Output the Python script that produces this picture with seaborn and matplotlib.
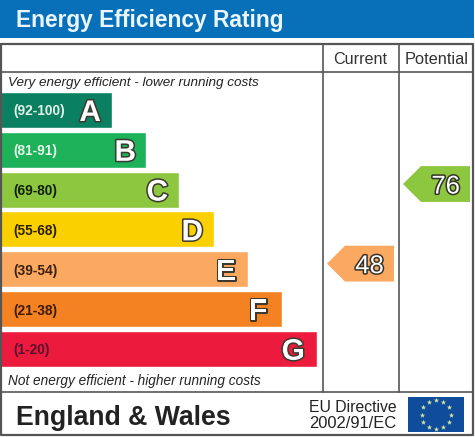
import numpy as np
import pandas as pd
import matplotlib
matplotlib.use('Agg')
import matplotlib.pyplot as plt
import matplotlib.patheffects as pe
import seaborn as sns

# Band data, bar lengths
bands = ['A', 'B', 'C', 'D', 'E', 'F', 'G']
ranges = ['(92-100)', '(81-91)', '(69-80)', '(55-68)', '(39-54)', '(21-38)', '(1-20)']
lengths = [112, 146, 179, 214, 248, 282, 317]
band_colors = ['#0B8060', '#1DB15A', '#8DC63F', '#FBD000', '#FBA860', '#F58222', '#EC1A3C']
range_colors = ['#E4F2EA', '#E4F6EA', '#10200A', '#2A2000', '#3A2010', '#3A1A08', '#5A1030']

# Current / potential ratings
ratings = [48, 76]
rating_bands = ['E', 'C']
rating_labels = ['Current', 'Potential']

W, H = 475, 437
sns.set_theme(style='white')
plt.rcParams['font.family'] = ['Liberation Sans', 'DejaVu Sans']

fig = plt.figure(figsize=(W / 100, H / 100), dpi=100)

# Bars axes: x in pixels, y is the band row
ax = fig.add_axes([0, 1 - 368.7 / H, 1, (368.7 - 90.1) / H])
df = pd.DataFrame({'band': bands, 'length': lengths})
sns.barplot(data=df, y='band', x='length', hue='band', palette=band_colors,
            order=bands, legend=False, width=0.905, saturation=1, ax=ax)
ax.set_xlim(0, W)
ax.set_ylim(6.5, -0.5)
ax.axis('off')

outline = [pe.withStroke(linewidth=2.2, foreground='#3A3A2E')]
letter_pad = [11, 10, 11, 11, 12, 15, 12]
for i, b in enumerate(bands):
    ax.text(13, i, ranges[i], color=range_colors[i], fontsize=9.9, fontweight='bold',
            ha='left', va='center_baseline')
    t = ax.text(lengths[i] - letter_pad[i], i, b, color='white', fontsize=21.5, fontweight='bold',
                ha='right', va='center_baseline')
    t.set_path_effects(outline)


def arrow(right, row, value, color):
    # pentagon pointing left, sized in pixels horizontally and rows vertically
    tip, shoulder = right - 67, right - 49
    xs = [tip, shoulder, right, right, shoulder]
    ys = [row, row - 0.45, row - 0.45, row + 0.45, row + 0.45]
    ax.fill(xs, ys, color=color, lw=0)
    t = ax.text(right - 10, row, str(value), color='white', fontsize=18.5, ha='right',
                va='center_baseline')
    t.set_path_effects([pe.withStroke(linewidth=2.2, foreground='#33332B')])


rights = [394, 470]
for right, value, b in zip(rights, ratings, rating_bands):
    r = bands.index(b)
    # the arrows sit a little above the middle of their band
    arrow(right, r - 0.14, value, band_colors[r])

# Overlay in pixel coordinates for the frame and the texts
ov = fig.add_axes([0, 0, 1, 1], facecolor='none')
ov.set_xlim(0, W)
ov.set_ylim(H, 0)
ov.axis('off')

ov.fill_between([0, 474], 0, 38, color='#0870B8', lw=0)
ov.text(16, 20, 'Energy Efficiency Rating', color='#EAF6FB', fontsize=16.4, fontweight='bold',
        ha='left', va='center')

line = '#555555'
ov.plot([1, 473, 473, 1, 1], [44, 44, 435, 435, 44], color=line, lw=1.6)
ov.plot([1, 473], [72, 72], color=line, lw=1.2)
ov.plot([1, 473], [392, 392], color=line, lw=1.2)
ov.plot([322.5, 322.5], [44, 392], color=line, lw=1.2)
ov.plot([399, 399], [44, 392], color=line, lw=1.2)

ov.text(360, 59, rating_labels[0], color='#333333', fontsize=11.6, ha='center', va='center')
ov.text(436.5, 59, rating_labels[1], color='#333333', fontsize=11.8, ha='center', va='center')
ov.text(8, 83, 'Very energy efficient - lower running costs', color='#222222', fontsize=9.7,
        style='italic', ha='left', va='center')
ov.text(8, 381, 'Not energy efficient - higher running costs', color='#222222', fontsize=9.8,
        style='italic', ha='left', va='center')
ov.text(16, 418, 'England & Wales', color='#222222', fontsize=19.2, fontweight='bold',
        ha='left', va='center')
ov.text(309, 407, 'EU Directive', color='#222222', fontsize=11.3, ha='left', va='center')
ov.text(309, 424, '2002/91/EC', color='#222222', fontsize=11.9, ha='left', va='center')

# EU flag
ov.fill_between([408, 464], 397, 432, color='#0F4C9C', lw=0)
angles = np.deg2rad(np.arange(0, 360, 30))
ov.scatter(436 + 14.5 * np.cos(angles), 414.5 + 14.5 * np.sin(angles), marker='*', s=16,
           color='#D8E8A0', lw=0)

fig.savefig('out.png', dpi=100)
